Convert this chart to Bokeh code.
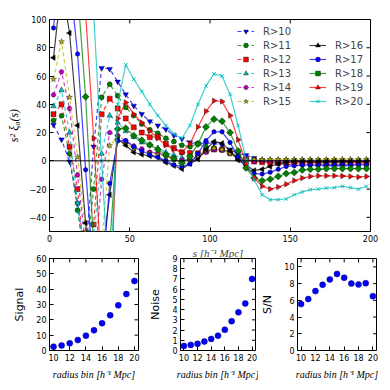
import math
from bokeh.plotting import figure
from bokeh.models import Range1d, Legend, LegendItem, Span, FixedTicker
from bokeh.layouts import column, row
from bokeh.embed import file_html
from bokeh.resources import INLINE

# ---------------- data ----------------
s = [2.5, 7.5, 12.5, 17.5, 22.5, 27.5, 32.5, 37.5, 42.5, 47.5,
     52.5, 57.5, 62.5, 67.5, 72.5, 77.5, 82.5, 87.5, 92.5, 97.5,
     102.5, 107.5, 112.5, 117.5, 122.5, 127.5, 132.5, 137.5, 142.5, 147.5,
     152.5, 157.5, 162.5, 167.5, 172.5, 177.5, 182.5, 187.5, 192.5, 197.5]

r10 = [25.4, 15, -0.5, -30, -70, 10, 65.7, 65, 56, 47, 39, 33, 28, 25, 22.3, 18, 15.5, 13, 12.4, 12.5,
       12.5, 11, 8, 5, 4, 2, 0, -1, -2, -2.5, -3, -3.5, -3.5, -3.5, -3.5, -3.5, -3.5, -3.5, -3.5, -3.5]
r11 = [28.6, 31.9, 5, -35, -75, -20, 45, 54.2, 46, 37.8, 32, 26, 22, 19.5, 16, 13.6, 11, 10, 12, 10,
       9, 8, 6, 3, 1, 0, -0.5, -1, -1, -1, -1.2, -1.2, -1.2, -1.2, -1.2, -1.2, -1.2, -1.2, -1.2, -1.2]
r12 = [33, 40, 10, -20, -80, -45, 32.9, 44, 37, 30, 23.7, 20, 16.7, 17, 12, 9, 6.1, 5.5, 5.4, 7,
       8, 8, 6, 2.5, 1, -0.5, -1, -1.5, -1.5, -1.5, -1.5, -1.5, -1.5, -1.5, -1.5, -1.5, -1.5, -1.5, -1.5, -1.5]
r13 = [38.7, 50, 20, -30, -85, -55, 5, 32, 27, 21, 17, 13, 11, 9, 6, 4, 2, 2, 4, 7,
       8, 7.5, 5, 2, 0.5, 0.5, 0.5, 0.5, 0.5, 0.5, 0.5, 0.5, 0.5, 0.5, 0.5, 0.5, 0.5, 0.5, 0.5, 0.5]
r14 = [46.7, 63, 37, -10, -60, -80, -13, 20, 18, 14, 10.5, 8.5, 6.1, 5.5, 3.5, 2, 0.5, 1, 3, 6,
       8, 7.5, 5, 2, 0, -0.5, 0, 0, 0, 0, 0, 0, 0, 0, 0, 0, 0, 0, 0, 0]
r15 = [57.7, 84.3, 45, 2.8, -50, -90, -60, 10.8, 17, 12, 9, 7, 5.5, 4.5, 3, 1, -1, 0, 3, 7,
       9, 8, 5, 2, 0.5, 1, 1, 1, 1, 1, 1, 1, 1, 1, 1, 1, 1, 1, 1, 1]
r16 = [73, 125, 90.4, 25, -44, -90, -70, -24, 15.5, 11, 6.1, 4.5, 3.5, 2.5, -1.2, -3.5, -5.8, -2, 1.2, 8,
       13.6, 12.5, 7, 0.5, -3, -6.8, -6, -4, -2.1, -1, -0.5, -0.5, -0.5, -0.5, -0.5, -0.5, -0.5, -0.5, -0.5, -0.5]
r17 = [94, 150, 130, 75.6, -6.3, -80, -90, -16, 14, 14.3, 10, 7, 4.5, 2.6, 0, -2.8, -4, -2.3, 5, 14.3,
       20.5, 20.5, 13, 3, -5, -9, -9.4, -8, -6, -4, -3.5, -3, -3, -3, -2.8, -2.8, -2.8, -2.8, -2.8, -2.8]
r18 = [130, 180, 170, 120, 45.3, -60, -120, -60, 22.5, 23, 17.8, 14.5, 11.3, 8, 4.2, 1.5, -1.6, 3, 12, 24,
       29.5, 28, 20, 7, -5, -12.2, -14.1, -13, -11, -9, -8.2, -6.5, -6, -6, -5.5, -5.5, -5.5, -5.5, -5.5, -5.5]
r19 = [180, 200, 210, 170, 105, 16, -80, -110, 30, 41.3, 33, 27, 21, 16, 11, 8, 6, 12, 24, 35,
       42.5, 42, 32, 15, -2, -12, -18, -20, -18.5, -16.5, -14, -12.2, -11, -10.6, -10.6, -10.6, -10.8, -11, -11.5, -11]
r20 = [190, 230, 250, 240, 200, 105, 0, -100, 40, 68, 57.7, 49, 40, 32, 25, 19, 16, 25, 40, 53,
       61.5, 60, 47, 25, 0.7, -13.4, -24, -27.5, -27.5, -27, -24, -22, -20.4, -20, -19.3, -19, -18, -19, -20, -18]

labels = ["R>10", "R>11", "R>12", "R>13", "R>14", "R>15",
          "R>16", "R>17", "R>18", "R>19", "R>20"]
series = [r10, r11, r12, r13, r14, r15, r16, r17, r18, r19, r20]

radius_bin = [10, 11, 12, 13, 14, 15, 16, 17, 18, 19, 20]
signal = [2.5, 3.3, 4.7, 6.8, 9.7, 13.2, 17.8, 23.0, 29.5, 36.8, 45.3]
noise = [0.45, 0.55, 0.65, 0.87, 1.13, 1.45, 2.03, 2.87, 3.73, 4.6, 7.0]
snr = [5.55, 6.15, 7.1, 7.85, 8.5, 9.15, 8.7, 8.0, 7.9, 8.05, 6.5]

s_ticks = [0, 50, 100, 150, 200]
xi_ticks = [-40, -20, 0, 20, 40, 60, 80, 100]
bin_ticks = [10, 12, 14, 16, 18, 20]
signal_ticks = [0, 10, 20, 30, 40, 50, 60]
noise_ticks = [0, 1, 2, 3, 4, 5, 6, 7, 8, 9]
snr_ticks = [0, 2, 4, 6, 8, 10]

# ---------------- styles ----------------
B, G, R, C, M, Y, K = "#0000ff", "#008000", "#ff0000", "#00bfbf", "#bf00bf", "#bfbf00", "#000000"
styles = [
    (B, "dashed", "inverted_triangle", 0.0, 5.5),
    (G, "dashed", "circle", 0.0, 5),
    (R, "dashed", "square", 0.0, 5),
    (C, "dashed", "triangle", 0.0, 5.5),
    (M, "dashed", "hex", 0.0, 5),
    (Y, "dashed", "star", 0.0, 6),
    (K, "solid", "triangle", math.pi / 2, 5.5),
    (B, "solid", "circle", 0.0, 4.5),
    (G, "solid", "square", math.pi / 4, 5),
    (R, "solid", "triangle", -math.pi / 2, 5.5),
    (C, "solid", "x", 0.0, 5),
]

TICK_FONT = "8px"
SANS = "DejaVu Sans"
SERIF = "Liberation Serif"


def style_axes(fig, xr, yr, xticks, yticks, fw, fh):
    for ax in fig.xaxis + fig.yaxis:
        ax.major_tick_in = 4
        ax.major_tick_out = 0
        ax.minor_tick_line_color = None
        ax.axis_line_color = None
        ax.major_tick_line_color = "black"
        ax.major_label_text_font = SANS
        ax.major_label_text_font_size = TICK_FONT
        ax.major_label_text_color = "black"
        ax.major_label_standoff = 3
        ax.axis_label_text_font_style = "normal"
        ax.axis_label_text_color = "black"
    fig.xaxis.ticker = FixedTicker(ticks=xticks)
    fig.yaxis.ticker = FixedTicker(ticks=yticks)
    # mirrored inward ticks on the top and right frame edges (4 px long)
    dy = 4.0 * (yr[1] - yr[0]) / fh
    dx = 4.0 * (xr[1] - xr[0]) / fw
    fig.segment(x0=xticks, y0=[yr[1]] * len(xticks), x1=xticks, y1=[yr[1] - dy] * len(xticks),
                line_color="black", line_width=1)
    fig.segment(x0=[xr[1]] * len(yticks), y0=yticks, x1=[xr[1] - dx] * len(yticks), y1=yticks,
                line_color="black", line_width=1)
    fig.grid.visible = False
    fig.outline_line_color = "black"
    fig.outline_line_alpha = 1
    fig.outline_line_width = 1
    fig.background_fill_color = "white"
    fig.border_fill_color = "white"


# ---------------- top panel ----------------
p = figure(width=390, height=244, x_range=Range1d(0, 200), y_range=Range1d(-50, 100),
           output_backend="svg", toolbar_location=None,
           min_border_left=49, min_border_right=20, min_border_top=19, min_border_bottom=12)
style_axes(p, (0, 200), (-50, 100), s_ticks, xi_ticks, 321, 213)
p.yaxis[0].axis_label = "s² ξ₀(s)"
p.yaxis[0].axis_label_text_font = SERIF
p.yaxis[0].axis_label_text_font_style = "italic"
p.yaxis[0].axis_label_text_font_size = "12px"
p.yaxis[0].axis_label_standoff = 6

p.add_layout(Span(location=0, dimension="width", line_color="black", line_width=1))

items = []
for lab, ys, (col, dash, mk, ang, sz) in zip(labels, series, styles):
    lr = p.line(s, ys, line_color=col, line_dash=("4 3" if dash == "dashed" else "solid"),
                line_width=1.2, line_alpha=0.75)
    if mk == "x":
        sr = p.scatter(s, ys, marker="x", size=sz, line_color=col, line_width=1)
    else:
        sr = p.scatter(s, ys, marker=mk, size=sz, angle=ang, fill_color=col,
                       line_color="black", line_width=0.4)
    items.append(LegendItem(label=lab, renderers=[lr, sr]))

for grp, xloc in ((items[:6], 188), (items[6:], 260)):
    lg = Legend(items=grp, location=(xloc, 124), orientation="vertical",
                glyph_width=17, glyph_height=12, label_height=12, label_width=20,
                spacing=2, padding=0, margin=0, label_standoff=9,
                label_text_font=SANS, label_text_font_size="10px",
                background_fill_alpha=0, border_line_alpha=0)
    p.add_layout(lg, "center")


# ---------------- bottom panels ----------------
def small(width, ymax, yticks, left, right, ylabel, yvals):
    fw = width - left - right
    f = figure(width=width, height=146, x_range=Range1d(9.5, 20.5), y_range=Range1d(0, ymax),
               output_backend="svg", toolbar_location=None,
               min_border_left=left, min_border_right=right, min_border_top=12, min_border_bottom=40)
    style_axes(f, (9.5, 20.5), (0, ymax), bin_ticks, yticks, fw, 94)
    f.yaxis[0].axis_label = ylabel
    f.yaxis[0].axis_label_text_font = SANS
    f.yaxis[0].axis_label_text_font_size = "11px"
    f.yaxis[0].axis_label_standoff = 7
    f.xaxis[0].axis_label = "radius bin [h⁻¹ Mpc]"
    f.xaxis[0].axis_label_text_font = SERIF
    f.xaxis[0].axis_label_text_font_style = "italic"
    f.xaxis[0].axis_label_text_font_size = "10px"
    f.xaxis[0].axis_label_standoff = 5
    f.scatter(radius_bin, yvals, marker="circle", size=6, fill_color="#0000ff",
              line_color="#000080", line_width=0.5)
    return f


b1 = small(146, 60, signal_ticks, 49, 8, "Signal", signal)
b2 = small(112, 9, noise_ticks, 24, 3, "Noise", noise)
b3 = small(132, 11, snr_ticks, 25, 14, "S/N", snr)

b2.title.text = "s [h⁻¹ Mpc]"
b2.title.text_font = SERIF
b2.title.text_font_style = "italic"
b2.title.text_font_size = "11px"
b2.title.align = "center"
b2.title.standoff = 0
b2.title.offset = -3

layout = column(p, row(b1, b2, b3))

open("out.html", "w").write(file_html(layout, INLINE))
